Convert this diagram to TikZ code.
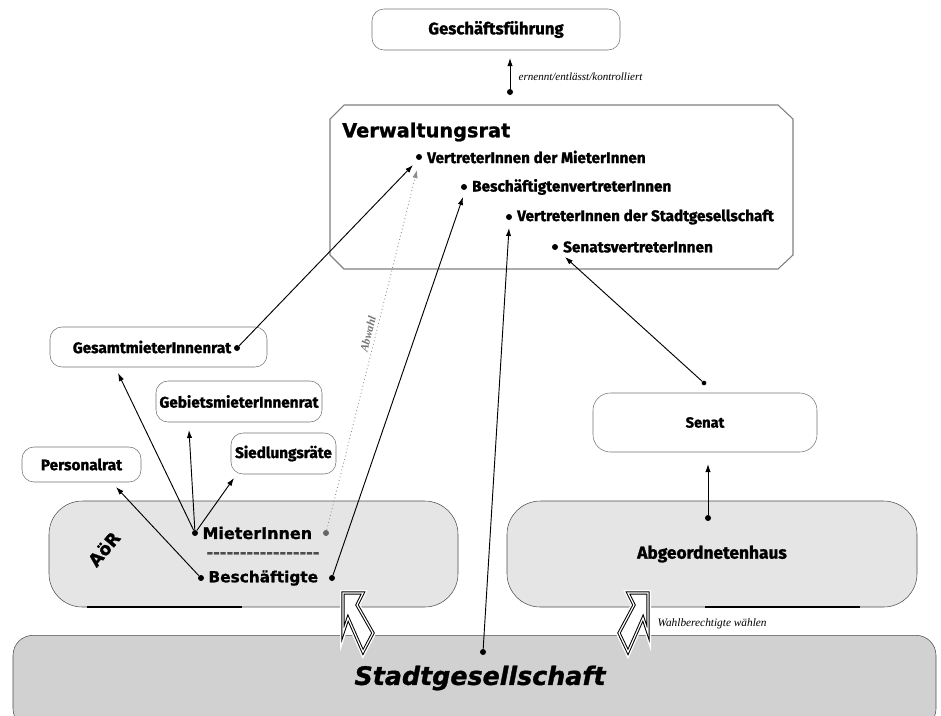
\documentclass[tikz,border=0pt]{standalone}
\usepackage{fontspec}
\setmainfont{Fira Sans}
\newfontfamily\blackface{Fira Sans}[BoldFeatures={FakeBold=1.3}]
\newfontfamily\wideface{DejaVu Sans}[BoldFeatures={FakeBold=1.2}, BoldItalicFeatures={FakeBold=1.2}]
\newfontfamily\noteface{Liberation Serif}
\usetikzlibrary{arrows.meta,positioning}

\begin{document}
\begin{tikzpicture}[x=0.75pt,y=0.75pt,yscale=-1,xscale=1,
  box/.style={draw=black!55, fill=white, rounded corners=9pt, inner sep=0pt, font=\blackface\bfseries\fontsize{11.5}{13}\selectfont},
  bigbox/.style={draw=black!70, fill=black!10, rounded corners=25pt, inner sep=0pt},
  item/.style={inner sep=2pt, font=\blackface\bfseries\fontsize{11.5}{13}\selectfont},
  heavy/.style={inner sep=2pt, font=\wideface\bfseries\fontsize{12}{14}\selectfont},
  dot/.style={circle, fill=black, inner sep=0pt, minimum size=4.5pt},
  link/.style={-{Latex[length=6pt,width=4pt]}, line width=0.7pt},
  note/.style={font=\noteface\itshape\fontsize{8.3}{9}\selectfont, inner sep=1pt},
  zigzag/.style={draw=black, line width=0.75pt, double=white, double distance=0.9pt, fill=white, line join=miter,
    preaction={draw=white, line width=4.5pt}}
]
\useasboundingbox (0,0) rectangle (941,715);

%Geschaeftsfuehrung
\node[box, minimum width=186pt, minimum height=30.75pt, font=\blackface\bfseries\fontsize{12.5}{14}\selectfont] (gf) at (496,29.5) {Geschäftsführung};

%Verwaltungsrat frame
\draw[draw=black!50, line width=0.8pt] (344,105) -- (778,105) -- (793,119) -- (793,255) -- (778,269) -- (344,269) -- (330,255) -- (330,119) -- cycle;
\node[anchor=west, inner sep=0pt, font=\wideface\bfseries\fontsize{14.5}{16}\selectfont] (vr) at (342,132) {Verwaltungsrat};
\node[dot] (vrM) at (419,157) {};
\node[item, right=1.5pt of vrM] (vrMt) {VertreterInnen der MieterInnen};
\node[dot] (vrB) at (464,187) {};
\node[item, right=1.5pt of vrB] (vrBt) {BeschäftigtenvertreterInnen};
\node[dot] (vrS) at (509,217) {};
\node[item, right=1.5pt of vrS] (vrSt) {VertreterInnen der Stadtgesellschaft};
\node[dot] (vrSen) at (555,247) {};
\node[item, right=1.5pt of vrSen] (vrSent) {SenatsvertreterInnen};

%Raete
\node[box, minimum width=162.75pt, minimum height=30pt] (gmr) at (158.5,347) {};
\node[item] (gmrt) at (152,347) {GesamtmieterInnenrat};
\node[dot] (gmrD) at (237,348) {};
\node[box, minimum width=124.5pt, minimum height=30.75pt] (gbm) at (239,401.5) {GebietsmieterInnenrat};
\node[box, minimum width=78.75pt, minimum height=30.75pt] (sdl) at (283.5,453.5) {Siedlungsräte};
\node[box, minimum width=89.25pt, minimum height=26.25pt] (pr) at (81.5,464.5) {Personalrat};

%Senat
\node[box, rounded corners=13pt, minimum width=168pt, minimum height=44.25pt, font=\blackface\bfseries\fontsize{11}{13}\selectfont] (sen) at (705,422.5) {Senat};

%AoeR und Abgeordnetenhaus
\node[bigbox, minimum width=306.75pt, minimum height=79.5pt] (aoer) at (253.5,554) {};
\draw[line width=1.6pt] (87,607) -- (242,607);
\node[heavy, rotate=50, font=\wideface\bfseries\fontsize{13}{15}\selectfont] (aoert) at (104,549) {AöR};
\node[dot] (dM) at (195,533) {};
\node[heavy, right=1pt of dM] (dMt) {MieterInnen};
\node[dot, fill=black!60] (dMr) at (326,533) {};
\node[heavy, text=black!70] (dash) at (263,555) {-----------------};
\node[dot] (dB) at (201,578) {};
\node[heavy, right=1pt of dB, font=\wideface\bfseries\fontsize{11.5}{14}\selectfont] (dBt) {Beschäftigte};
\node[dot] (dBr) at (332,578) {};

\node[bigbox, minimum width=307.5pt, minimum height=79.5pt, font=\blackface\bfseries\fontsize{13}{15}\selectfont] (abg) at (712,554) {Abgeordnetenhaus};
\draw[line width=1.6pt] (705,607) -- (860,607);
\node[dot] (abgD) at (708,518) {};

%Stadtgesellschaft
\node[draw=black!70, fill=black!18, rounded corners=15pt, minimum width=692.25pt, minimum height=70pt, inner sep=0pt] (sg) at (474.5,682) {};
\node[inner sep=0pt, font=\wideface\bfseries\itshape\fontsize{19}{22}\selectfont] (sgt) at (480,678) {Stadtgesellschaft};
\node[dot] (sgD) at (483,652) {};

%zigzag arrows
\draw[zigzag] (343,593) -- (363,593) -- (357,605) -- (373,633) -- (363,652) -- (348,618) -- (343,633) -- cycle;
\draw[zigzag] (628,593) -- (648,593) -- (648,633) -- (643,618) -- (628,652) -- (619,633) -- (634,605) -- cycle;
\node[note, anchor=west, font=\noteface\itshape\fontsize{8.5}{10}\selectfont] (wahl) at (656,624) {Wahlberechtigte wählen};

%connectors
\coordinate (gfIn) at (510,58);
\node[dot] (vrTop) at (510,92) {};
\draw[link] (vrTop) -- (gfIn);
\node[note, anchor=west] (gfnote) at (517,77) {ernennt/entlässt/kontrolliert};

\coordinate (vrMIn) at (413,165);
\draw[link] (gmrD) -- (vrMIn);
\coordinate (gmrIn) at (118,373);
\coordinate (gbmIn) at (189,430);
\coordinate (sdlIn) at (234,478);
\coordinate (prIn) at (116,487);
\draw[link] (dM) -- (gmrIn);
\draw[link] (dM) -- (gbmIn);
\draw[link] (dM) -- (sdlIn);
\draw[link] (dB) -- (prIn);

\coordinate (vrMIn2) at (417,170);
\draw[link, black!45, dotted, line width=0.6pt] (dMr) -- (vrMIn2);
\node[rotate=76, font=\noteface\itshape\bfseries\fontsize{8.5}{10}\selectfont, text=black!55, inner sep=1pt] (abw) at (368,334) {Abwahl};
\coordinate (vrBIn) at (463,197);
\draw[link] (dBr) -- (vrBIn);
\coordinate (vrSIn) at (509,228);
\draw[link] (sgD) -- (vrSIn);
\node[dot, minimum size=3.5pt] (senD) at (704,383) {};
\coordinate (vrSenIn) at (565,257);
\draw[link] (senD) -- (vrSenIn);
\coordinate (senIn) at (708,464);
\draw[link] (abgD) -- (senIn);

\end{tikzpicture}
\end{document}
